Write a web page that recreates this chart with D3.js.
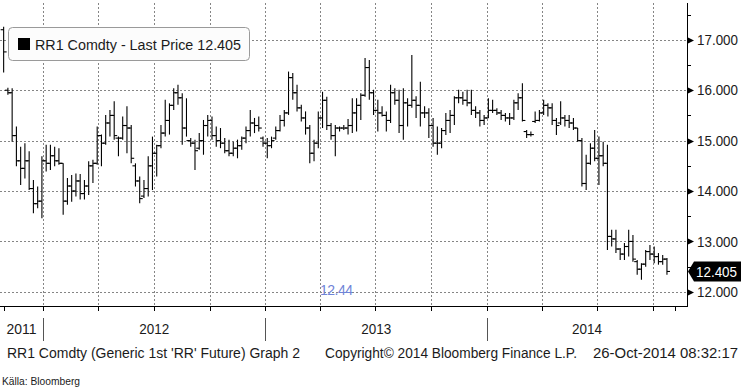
<!DOCTYPE html>
<html><head><meta charset="utf-8">
<script src="https://cdn.jsdelivr.net/npm/d3@7"></script>
<style>
body{margin:0;background:#fff}
svg{display:block}
text{font-family:"Liberation Sans",Arial,sans-serif}
</style>
</head><body>
<svg id="c" width="749" height="390"></svg>
<script>
// ---- data (weekly OHLC, RR1 Comdty) ----
const firstWeek = "2011-10-28";
const lastWeek  = "2014-10-24";
const highs = [17.26,16.05,16.04,15.28,14.88,14.95,14.79,14.22,14.09,14.69,
14.92,14.92,14.88,14.85,14.55,14.26,14.32,14.35,14.34,14.22,
14.59,14.62,15.28,15.12,15.51,15.61,15.78,15.08,15.48,15.68,
15.31,14.55,14.29,14.22,14.69,15.08,14.92,15.31,15.81,15.74,
16.04,16.11,15.94,15.84,15.05,15.02,15.15,15.41,15.51,15.48,
15.28,15.25,15.05,15.02,14.98,15.02,15.08,15.28,15.61,15.45,
15.48,15.08,15.05,15.08,15.28,15.51,15.61,16.37,16.34,16.11,
15.71,15.58,15.31,15.02,15.58,15.97,15.87,15.35,15.31,15.28,
15.31,15.43,15.84,15.84,15.94,16.64,16.60,16.01,15.81,15.68,
15.58,16.11,16.04,16.01,16.04,15.84,16.70,15.88,16.17,15.68,
15.64,15.45,15.28,15.25,15.55,15.61,15.88,16.01,15.97,16.01,
16.01,15.68,15.61,15.51,15.84,15.81,15.64,15.61,15.55,15.55,
15.81,15.94,16.14,15.21,15.18,15.58,15.61,15.81,15.74,15.74,
15.45,15.78,15.51,15.51,15.45,15.25,15.05,14.72,14.95,15.21,
15.08,14.98,14.92,13.23,13.23,12.87,12.97,13.23,13.13,12.63,
12.57,12.83,12.93,12.90,12.77,12.73,12.67];
const lows = [16.35,15.91,14.98,14.49,14.12,14.25,14.02,13.56,13.66,13.46,
14.39,14.42,14.49,14.52,13.53,13.73,13.79,13.89,13.83,13.83,
13.92,14.16,14.52,14.49,14.92,15.08,15.02,14.69,15.02,14.75,
14.55,14.09,13.76,13.86,13.89,14.02,14.29,14.85,15.08,15.12,
15.61,15.71,14.92,15.08,14.88,14.42,14.82,14.72,15.08,15.02,
14.88,14.85,14.75,14.69,14.69,14.65,14.82,14.95,15.08,15.15,
15.18,14.88,14.65,14.85,15.02,15.18,15.28,15.51,15.81,15.58,
15.38,15.12,14.55,14.59,14.85,15.25,15.21,15.02,14.69,15.18,
15.21,15.12,15.15,15.18,15.41,15.87,15.81,15.51,15.18,15.48,
15.18,15.35,15.71,15.15,15.02,15.28,15.65,15.45,15.28,15.45,
15.05,14.88,14.72,14.85,15.11,15.15,15.31,15.74,15.71,15.68,
15.51,15.45,15.28,15.31,15.45,15.55,15.51,15.41,15.38,15.31,
15.41,15.61,15.38,15.05,15.08,15.35,15.38,15.51,15.48,15.31,
15.11,15.31,15.28,15.25,15.21,14.98,14.09,14.02,14.52,14.59,
14.12,14.49,12.83,12.90,12.77,12.63,12.63,12.70,12.60,12.34,
12.24,12.50,12.63,12.57,12.54,12.54,12.34];
const opens = [17.20,16.00,15.95,15.10,14.60,14.45,14.60,14.05,13.75,13.80,
14.60,14.55,14.70,14.60,14.55,13.80,14.10,14.00,14.20,13.95,
14.10,14.50,14.55,15.10,14.95,15.35,15.50,15.05,15.05,15.30,
15.25,14.50,14.20,13.90,14.05,14.50,14.75,14.90,15.15,15.40,
15.70,15.95,15.85,15.25,15.00,14.95,14.85,15.00,15.30,15.40,
15.10,15.00,14.95,14.80,14.75,14.85,14.90,15.05,15.20,15.35,
15.30,15.05,14.95,14.90,15.05,15.20,15.40,15.55,16.25,15.95,
15.65,15.45,15.25,14.75,14.95,15.45,15.80,15.30,15.10,15.25,
15.25,15.25,15.30,15.55,15.70,15.90,16.45,15.95,15.60,15.55,
15.50,15.40,15.95,15.80,15.30,15.75,15.70,15.80,15.70,15.55,
15.55,15.30,14.95,14.95,15.20,15.40,15.50,15.85,15.85,15.80,
15.75,15.60,15.55,15.40,15.45,15.60,15.60,15.55,15.50,15.45,
15.45,15.75,15.85,15.18,15.12,15.38,15.40,15.55,15.70,15.65,
15.40,15.35,15.45,15.40,15.35,15.25,15.00,14.15,14.55,14.85,
14.65,14.70,14.55,13.10,13.05,12.85,12.75,12.90,13.00,12.60,
12.45,12.55,12.80,12.75,12.70,12.60,12.65];
const closes = [16.76,15.95,15.10,14.60,14.45,14.60,14.05,13.75,13.80,14.60,
14.55,14.70,14.60,14.55,13.80,14.10,14.00,14.20,13.95,14.10,
14.50,14.55,15.10,14.95,15.35,15.50,15.10,15.05,15.30,15.25,
14.65,14.20,13.85,14.05,14.50,14.75,14.90,15.15,15.40,15.70,
15.95,15.85,15.25,15.00,14.95,14.80,15.00,15.30,15.40,15.10,
15.00,14.95,14.80,14.75,14.85,14.90,15.05,15.20,15.35,15.30,
15.25,14.95,14.90,15.00,15.20,15.40,15.55,16.25,15.95,15.65,
15.45,15.25,14.75,14.95,15.45,15.80,15.30,15.10,15.25,15.25,
15.25,15.30,15.55,15.70,15.90,16.45,15.95,15.60,15.55,15.50,
15.40,15.95,15.80,15.30,15.75,15.70,15.80,15.70,15.55,15.55,
15.30,14.95,14.95,15.20,15.40,15.50,15.85,15.85,15.80,15.75,
15.60,15.55,15.40,15.45,15.60,15.60,15.55,15.50,15.45,15.45,
15.75,15.85,15.40,15.12,15.12,15.40,15.55,15.70,15.65,15.40,
15.30,15.45,15.40,15.35,15.25,15.00,14.15,14.55,14.85,14.65,
14.70,14.55,13.10,13.05,12.85,12.75,12.90,13.00,12.65,12.45,
12.55,12.80,12.75,12.70,12.60,12.65,12.405];
const yMajor = [12,13,14,15,16,17];
const yMinor = [12.5,13.5,14.5,15.5,16.5,17.5];
const yearLabels = ["2011","2012","2013","2014"];
const lastPrice = 12.405;
const lowNote = "12.44";
const legendText = "RR1 Comdty - Last Price 12.405";
const footLeft = "RR1 Comdty (Generic 1st 'RR' Future) Graph 2";
const footMid = "Copyright\u00A9 2014 Bloomberg Finance L.P.";
const footRight = "26-Oct-2014 08:32:17";
const source = "K\u00E4lla: Bloomberg";

// ---- layout ----
const plotL = 0, plotR = 687, plotT = 3, plotB = 306;
const parse = d3.timeParse("%Y-%m-%d");
const svg = d3.select("#c");
const ink = "#1b1b1b";

const x = d3.scaleTime()
  .domain([new Date(2011,9,22), new Date(2014,10,26)])
  .range([plotL, plotR]);
const y = d3.scaleLinear().domain([11.72, 17.73]).range([plotB, plotT]);

const dates = d3.timeFriday.range(parse(firstWeek), d3.timeDay.offset(parse(lastWeek),1));
const bars = dates.map((d,i)=>({d, o:opens[i], h:highs[i], l:lows[i], c:closes[i]}));

const gridCol = "#858585";
svg.append("g").selectAll("line").data(yMajor).join("line")
  .attr("x1", plotL).attr("x2", plotR)
  .attr("y1", d=>Math.round(y(d))+0.5).attr("y2", d=>Math.round(y(d))+0.5)
  .attr("stroke", gridCol).attr("stroke-dasharray","2,2");
const quarters = x.ticks(d3.timeMonth.every(3)).filter(d=>d.getMonth()%3===0);
svg.append("g").selectAll("line").data(quarters).join("line")
  .attr("x1", d=>Math.round(x(d))+0.5).attr("x2", d=>Math.round(x(d))+0.5)
  .attr("y1", plotT).attr("y2", plotB)
  .attr("stroke", gridCol).attr("stroke-dasharray","2,2");

// OHLC bars
const gb = svg.append("g").attr("stroke","#000").attr("stroke-width",1.1);
bars.forEach(b=>{
  const cx = x(b.d);
  gb.append("line").attr("x1",cx).attr("x2",cx).attr("y1",y(b.h)).attr("y2",y(b.l));
  gb.append("line").attr("x1",cx-3).attr("x2",cx).attr("y1",y(b.o)).attr("y2",y(b.o));
  gb.append("line").attr("x1",cx).attr("x2",cx+3).attr("y1",y(b.c)).attr("y2",y(b.c));
});

// axes lines
svg.append("line").attr("x1",plotR+0.5).attr("x2",plotR+0.5).attr("y1",plotT).attr("y2",plotB+0.5)
  .attr("stroke","#000");
svg.append("line").attr("x1",plotL).attr("x2",plotR+1).attr("y1",plotB+0.5).attr("y2",plotB+0.5)
  .attr("stroke","#000");

// right axis
svg.append("g").selectAll("path").data(yMajor).join("path")
  .attr("d", d=>{const yy=Math.round(y(d))+0.5; return `M${plotR},${yy-3.5}L${plotR+7},${yy}L${plotR},${yy+3.5}Z`;})
  .attr("fill","#000");
svg.append("g").selectAll("line").data(yMinor).join("line")
  .attr("x1",plotR).attr("x2",plotR+4)
  .attr("y1",d=>Math.round(y(d))+0.5).attr("y2",d=>Math.round(y(d))+0.5)
  .attr("stroke","#000");
svg.append("g").selectAll("text").data(yMajor).join("text")
  .attr("x", plotR+10).attr("y", d=>y(d)).attr("dy","0.36em")
  .attr("font-size",14).attr("fill",ink)
  .attr("textLength",41).attr("lengthAdjust","spacingAndGlyphs")
  .text(d=>d3.format(".3f")(d));

// last price tag
const ly = y(lastPrice);
svg.append("path")
  .attr("d",`M${plotR+1},${ly}L${plotR+7},${ly-10}L${741},${ly-10}L${741},${ly+10}L${plotR+7},${ly+10}Z`)
  .attr("fill","#000");
svg.append("text").attr("x",plotR+9).attr("y",ly).attr("dy","0.36em")
  .attr("font-size",14).attr("fill","#fff")
  .attr("textLength",41).attr("lengthAdjust","spacingAndGlyphs")
  .text(d3.format(".3f")(lastPrice));

// bottom ticks
const extraTicks = [parse(firstWeek), parse("2014-11-07")];
svg.append("g").selectAll("line").data(quarters.concat(extraTicks)).join("line")
  .attr("x1", d=>Math.round(x(d))+0.5).attr("x2", d=>Math.round(x(d))+0.5)
  .attr("y1", plotB).attr("y2", plotB+5).attr("stroke","#000");

// year separators and labels
const yearStarts = yearLabels.slice(1).map(s=>new Date(+s,0,1));
svg.append("g").selectAll("line").data(yearStarts).join("line")
  .attr("x1", d=>Math.round(x(d))+0.5).attr("x2", d=>Math.round(x(d))+0.5)
  .attr("y1", 318).attr("y2", 341).attr("stroke","#555");
const bounds = [plotL].concat(yearStarts.map(d=>x(d))).concat([plotR]);
svg.append("g").selectAll("text").data(yearLabels).join("text")
  .attr("x",(d,i)=>(bounds[i]+bounds[i+1])/2).attr("y",334)
  .attr("text-anchor","middle").attr("font-size",14).attr("fill",ink)
  .attr("textLength",30).attr("lengthAdjust","spacingAndGlyphs")
  .text(d=>d);

// low note
svg.append("text").attr("x",320).attr("y",295).attr("font-size",14)
  .attr("fill","#6f84d8").attr("textLength",33).text(lowNote);

// legend
const lg = svg.append("g");
lg.append("rect").attr("x",8.5).attr("y",27.5).attr("width",241).attr("height",33).attr("rx",4)
  .attr("fill","#fcfcfc").attr("stroke","#9a9a9a");
lg.append("rect").attr("x",18).attr("y",38).attr("width",12).attr("height",12).attr("fill","#000");
lg.append("text").attr("x",35).attr("y",50).attr("font-size",14).attr("fill",ink)
  .attr("textLength",206).attr("lengthAdjust","spacingAndGlyphs").text(legendText);

// footer
svg.append("text").attr("x",7).attr("y",358).attr("font-size",14).attr("fill",ink)
  .attr("textLength",293).attr("lengthAdjust","spacingAndGlyphs").text(footLeft);
svg.append("text").attr("x",325).attr("y",358).attr("font-size",14).attr("fill",ink)
  .attr("textLength",252).attr("lengthAdjust","spacingAndGlyphs").text(footMid);
svg.append("text").attr("x",593).attr("y",358).attr("font-size",14).attr("fill",ink)
  .attr("textLength",145).attr("lengthAdjust","spacingAndGlyphs").text(footRight);
svg.append("text").attr("x",2).attr("y",385).attr("font-size",11)
  .attr("font-family",'"Liberation Sans Narrow","Liberation Sans",Arial,sans-serif')
  .attr("fill",ink).attr("textLength",78).attr("lengthAdjust","spacingAndGlyphs").text(source);
</script>
</body></html>
